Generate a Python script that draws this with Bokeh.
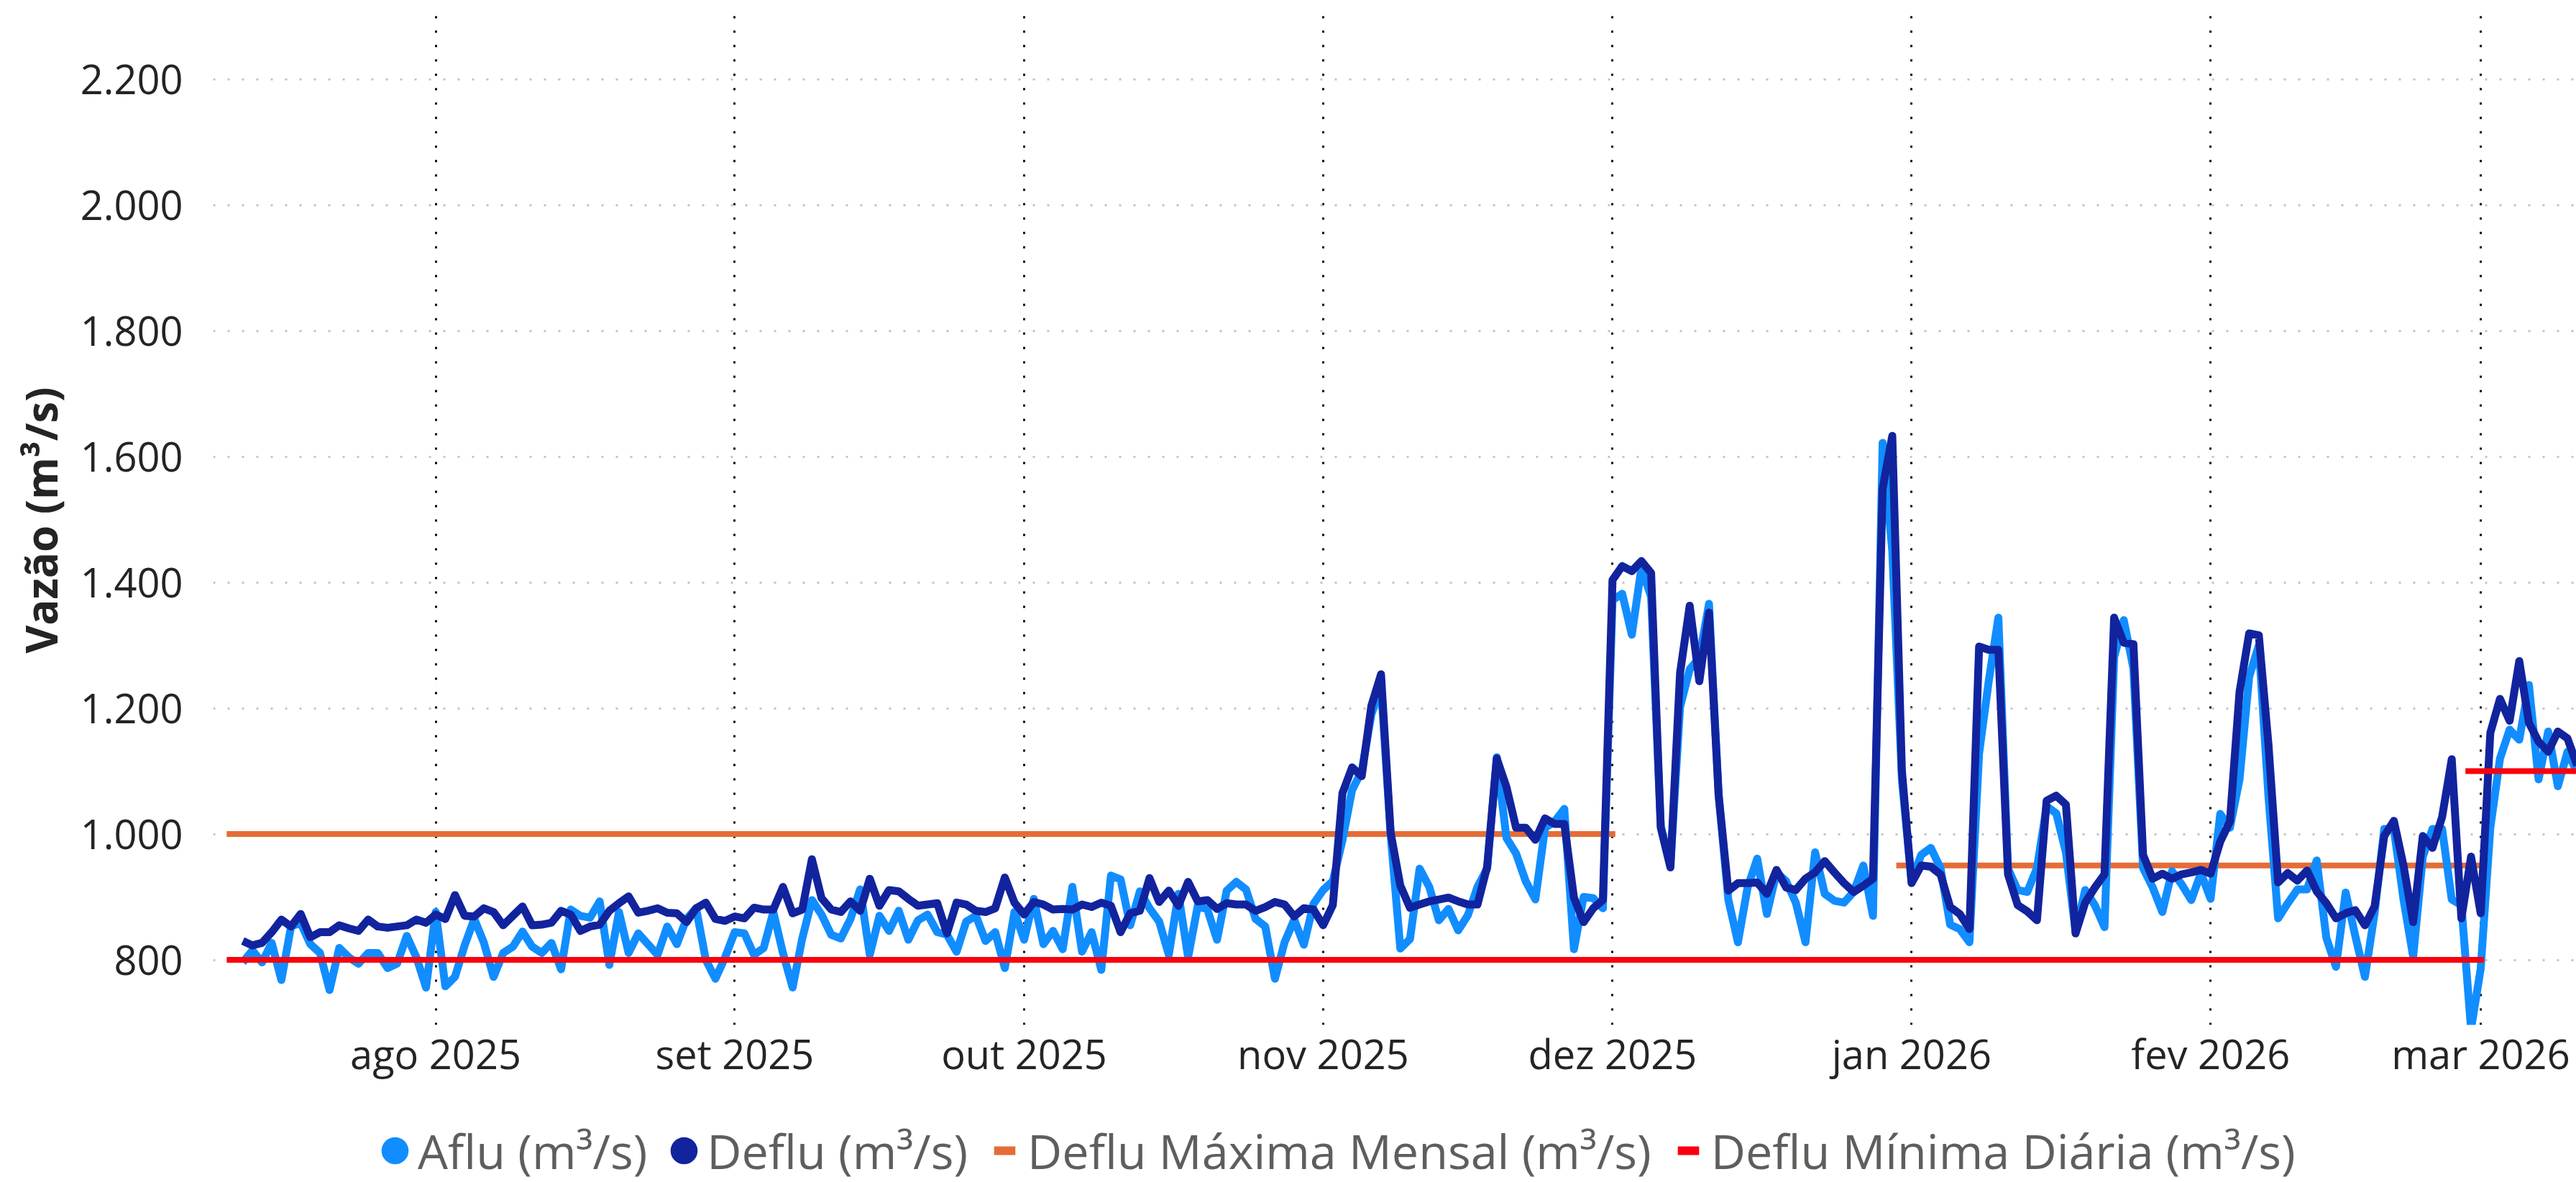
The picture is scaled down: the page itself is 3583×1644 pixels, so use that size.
import pandas as pd
from bokeh.plotting import figure
from bokeh.layouts import column
from bokeh.models import (ColumnDataSource, FixedTicker, CustomJSTickFormatter,
                          Legend, LegendItem, Range1d)
from bokeh.embed import file_html
from bokeh.resources import INLINE

# ---------------- data ----------------
START_DATE = "2025-07-12"

AFLU_JUL = [796, 815, 796, 827, 768, 853, 859, 825, 811, 752, 819, 804, 794, 811, 811, 787, 794, 838, 804, 756]
AFLU_AUG = [876, 758, 773, 823, 865, 827, 773, 811, 821, 845, 821, 811, 827, 785, 880, 870, 867, 893, 792, 876,
            811, 842, 825, 808, 853, 825, 865, 882, 800, 770, 804]
AFLU_SEP = [844, 842, 808, 819, 876, 811, 756, 834, 895, 872, 840, 834, 865, 912, 808, 870, 846, 878, 832, 863,
            872, 844, 840, 813, 861, 870, 830, 844, 787, 876]
AFLU_OCT = [832, 897, 825, 846, 817, 916, 813, 844, 784, 934, 928, 855, 909, 882, 861, 808, 905, 804, 886, 880,
            832, 910, 924, 912, 865, 853, 770, 828, 864, 824, 889]
AFLU_NOV = [911, 925, 990, 1070, 1100, 1190, 1235, 999, 818, 833, 945, 916, 863, 881, 847, 871, 916, 945, 1122, 994,
            969, 925, 896, 1010, 1020, 1040, 817, 900, 898, 882]
AFLU_DEC = [1372, 1382, 1317, 1424, 1377, 1013, 950, 1202, 1262, 1280, 1366, 1062, 896, 828, 915, 961, 873, 939, 925, 891,
            828, 971, 905, 894, 891, 908, 950, 870, 1622, 1450, 1086]
AFLU_JAN = [925, 967, 978, 946, 856, 849, 828, 1128, 1243, 1344, 945, 911, 908, 946, 1044, 1033, 971, 845, 911, 887,
            852, 1281, 1340, 1263, 946, 915, 876, 941, 920, 895, 938]
AFLU_FEB = [897, 1032, 1010, 1087, 1250, 1300, 1060, 866, 890, 912, 912, 958, 835, 789, 907, 838, 773, 874, 1008, 1008,
            896, 805, 964, 1008, 1008, 896, 887, 690]
AFLU_MAR = [786, 1010, 1120, 1166, 1150, 1237, 1087, 1163, 1076, 1131, 1098]

DEFLU_JUL = [830, 823, 827, 844, 864, 853, 873, 836, 844, 844, 855, 850, 846, 864, 853, 851, 853, 855, 864, 859]
DEFLU_AUG = [872, 865, 903, 870, 869, 882, 876, 855, 870, 885, 855, 856, 859, 878, 872, 846, 853, 856, 878, 890,
             901, 875, 878, 882, 875, 874, 860, 882, 891, 865, 862]
DEFLU_SEP = [869, 866, 883, 880, 880, 916, 874, 880, 960, 898, 880, 876, 893, 878, 929, 886, 911, 909, 897, 886,
             888, 890, 842, 891, 888, 878, 876, 882, 931, 891]
DEFLU_OCT = [872, 892, 888, 880, 881, 880, 888, 884, 891, 886, 844, 874, 878, 930, 892, 910, 886, 924, 893, 895,
             881, 890, 888, 888, 878, 884, 892, 888, 869, 882, 880]
DEFLU_NOV = [855, 887, 1065, 1106, 1092, 1204, 1254, 1002, 918, 883, 888, 893, 896, 899, 893, 888, 888, 948, 1120, 1075,
             1010, 1010, 991, 1025, 1016, 1016, 899, 860, 882, 895]
DEFLU_DEC = [1404, 1426, 1418, 1434, 1415, 1010, 947, 1256, 1363, 1243, 1352, 1062, 910, 922, 922, 923, 905, 943, 915, 911,
             929, 939, 957, 939, 922, 908, 918, 929, 1549, 1633, 1100]
DEFLU_JAN = [922, 950, 948, 936, 884, 873, 849, 1298, 1293, 1293, 936, 887, 877, 863, 1053, 1061, 1047, 842, 891, 915,
             936, 1344, 1304, 1302, 967, 929, 937, 929, 936, 939, 943]
DEFLU_FEB = [937, 988, 1020, 1226, 1319, 1316, 1142, 923, 938, 926, 942, 909, 890, 866, 874, 879, 855, 885, 997, 1021,
             950, 860, 997, 978, 1027, 1119, 866, 964]
DEFLU_MAR = [874, 1161, 1215, 1180, 1275, 1177, 1147, 1131, 1163, 1152, 1109]

# Deflu Máxima Mensal (m³/s): horizontal segments
MAX_START = ["2025-07-10 08:00", "2025-12-30 10:00"]
MAX_END = ["2025-12-01 07:00", "2026-03-01 08:00"]
MAX_VALUE = [1000, 950]

# Deflu Mínima Diária (m³/s): horizontal segments
MIN_START = ["2025-07-10 08:00", "2026-02-27 10:00"]
MIN_END = ["2026-03-01 08:00", "2026-03-12 00:00"]
MIN_VALUE = [800, 1100]

MONTH_NAMES = ["jan", "fev", "mar", "abr", "mai", "jun", "jul", "ago", "set", "out", "nov", "dez"]
MONTH_TICKS = ["2025-08-01", "2025-09-01", "2025-10-01", "2025-11-01", "2025-12-01",
               "2026-01-01", "2026-02-01", "2026-03-01"]
Y_TICKS = [800, 1000, 1200, 1400, 1600, 1800, 2000, 2200]

LEGEND_LABELS = ["Aflu (m³/s)", "Deflu (m³/s)", "Deflu Máxima Mensal (m³/s)", "Deflu Mínima Diária (m³/s)"]
Y_TITLE = "Vazão (m³/s)"

# ---------------- styles ----------------
C_AFLU = "#118DFF"
C_DEFLU = "#12239E"
C_MAX = "#E66C37"
C_MIN = "#F9000E"
FONT = "Open Sans"

aflu = AFLU_JUL + AFLU_AUG + AFLU_SEP + AFLU_OCT + AFLU_NOV + AFLU_DEC + AFLU_JAN + AFLU_FEB + AFLU_MAR
deflu = DEFLU_JUL + DEFLU_AUG + DEFLU_SEP + DEFLU_OCT + DEFLU_NOV + DEFLU_DEC + DEFLU_JAN + DEFLU_FEB + DEFLU_MAR
dates = pd.date_range(START_DATE, periods=len(aflu), freq="D")

src = ColumnDataSource(dict(date=dates, aflu=aflu, deflu=deflu))
src_max = ColumnDataSource(dict(x0=pd.to_datetime(MAX_START), x1=pd.to_datetime(MAX_END), y=MAX_VALUE))
src_min = ColumnDataSource(dict(x0=pd.to_datetime(MIN_START), x1=pd.to_datetime(MIN_END), y=MIN_VALUE))

W, H_TOTAL = 3583, 1644
H_MAIN = 1510
H_LEG = H_TOTAL - H_MAIN
FRAME_LEFT = 296
FRAME_TOP = 21
FRAME_BOTTOM = 1425
PX_PER_DAY = 13.417
x_start = pd.Timestamp("2025-07-08 22:20")
x_end = x_start + pd.Timedelta(days=(W - FRAME_LEFT) / PX_PER_DAY)

p = figure(width=W, height=H_MAIN, x_axis_type="datetime", output_backend="svg",
           toolbar_location=None,
           x_range=Range1d(x_start, x_end), y_range=Range1d(696.6, 2301.4),
           min_border_left=FRAME_LEFT, min_border_right=0, min_border_top=FRAME_TOP,
           min_border_bottom=H_MAIN - FRAME_BOTTOM)
p.outline_line_color = None
p.background_fill_color = "white"
p.border_fill_color = "white"

# reference max line (under the flow series)
p.segment(x0="x0", y0="y", x1="x1", y1="y", source=src_max, line_color=C_MAX, line_width=8)
# flows
p.line(x="date", y="aflu", source=src, line_color=C_AFLU, line_width=11, line_join="round")
p.line(x="date", y="deflu", source=src, line_color=C_DEFLU, line_width=11, line_join="round")
# reference min line
p.segment(x0="x0", y0="y", x1="x1", y1="y", source=src_min, line_color=C_MIN, line_width=8)

# axes
month_ticks_ms = [pd.Timestamp(t).value // 10**6 for t in MONTH_TICKS]
xticker = FixedTicker(ticks=month_ticks_ms)
p.xaxis.ticker = xticker
p.xaxis.formatter = CustomJSTickFormatter(args=dict(names=MONTH_NAMES), code="""
    const d = new Date(tick);
    return names[d.getUTCMonth()] + ' ' + d.getUTCFullYear();
""")
p.yaxis.ticker = FixedTicker(ticks=Y_TICKS)
p.yaxis.formatter = CustomJSTickFormatter(code="""
    return Math.round(tick).toString().replace(/\\B(?=(\\d{3})+(?!\\d))/g, '.');
""")
for ax in (p.xaxis[0], p.yaxis[0]):
    ax.axis_line_color = None
    ax.major_tick_line_color = None
    ax.minor_tick_line_color = None
    ax.major_tick_out = 0
    ax.major_tick_in = 0
    ax.minor_tick_out = 0
    ax.minor_tick_in = 0
    ax.major_label_text_font = FONT
    ax.major_label_text_font_size = "56px"
    ax.major_label_text_color = "#252423"
p.xaxis.major_label_standoff = 1
p.yaxis.major_label_standoff = 42
p.yaxis.axis_label = Y_TITLE
p.yaxis.axis_label_text_font = FONT
p.yaxis.axis_label_text_font_style = "bold"
p.yaxis.axis_label_text_font_size = "60px"
p.yaxis.axis_label_text_color = "#252423"
p.yaxis.axis_label_standoff = 11

# grids
p.xgrid.ticker = xticker
p.xgrid.grid_line_color = "black"
p.xgrid.grid_line_width = 3
p.xgrid.grid_line_dash = "3 17"
p.ygrid.grid_line_color = "#C8C6C4"
p.ygrid.grid_line_width = 3
p.ygrid.grid_line_dash = "3 17"

# ---------------- legend strip ----------------
pl = figure(width=W, height=H_LEG, output_backend="svg", toolbar_location=None,
            x_range=Range1d(0, 1), y_range=Range1d(0, 1),
            x_axis_location=None, y_axis_location=None,
            min_border_left=0, min_border_right=0, min_border_top=0, min_border_bottom=0)
pl.outline_line_color = None
pl.grid.visible = False
pl.background_fill_color = "white"
pl.border_fill_color = "white"

# legend proxy glyphs (their single point lies outside the strip's ranges, so only the legend shows them)
OFF = [-10]
r_a = pl.scatter(x=OFF, y=OFF, marker="circle", fill_color=C_AFLU, line_color=C_AFLU, line_width=20)
r_d = pl.scatter(x=OFF, y=OFF, marker="circle", fill_color=C_DEFLU, line_color=C_DEFLU, line_width=20)
r_mx = pl.scatter(x=OFF, y=OFF, marker="dash", line_color=C_MAX, line_width=12, line_cap="square")
r_mn = pl.scatter(x=OFF, y=OFF, marker="dash", line_color=C_MIN, line_width=12, line_cap="square")

legend = Legend(items=[LegendItem(label=LEGEND_LABELS[0], renderers=[r_a]),
                       LegendItem(label=LEGEND_LABELS[1], renderers=[r_d]),
                       LegendItem(label=LEGEND_LABELS[2], renderers=[r_mx]),
                       LegendItem(label=LEGEND_LABELS[3], renderers=[r_mn])],
                orientation="horizontal", location=(231, -1),
                glyph_width=44, glyph_height=90, label_standoff=10, spacing=29,
                padding=0, margin=0,
                label_text_font=FONT, label_text_font_size="66.5px",
                label_text_color="#605E5C",
                border_line_color=None, background_fill_alpha=0)
pl.add_layout(legend)

layout = column(p, pl, spacing=0)
open("out.html", "w").write(file_html(layout, INLINE))
